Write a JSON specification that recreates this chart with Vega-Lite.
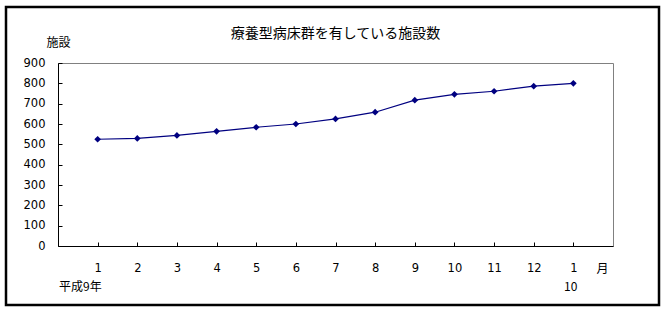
{
  "$schema": "https://vega.github.io/schema/vega-lite/v6.json",
  "width": 555,
  "height": 183,
  "autosize": {"type": "none"},
  "padding": {"left": 58, "top": 63, "right": 52, "bottom": 65},
  "background": "white",
  "title": {
    "text": "療養型病床群を有している施設数",
    "font": "Noto Sans CJK JP",
    "fontSize": 14,
    "fontWeight": "normal",
    "color": "black",
    "anchor": "middle",
    "frame": "group",
    "offset": -35
  },
  "datasets": {
    "main": [
      {"idx": 1, "value": 525},
      {"idx": 2, "value": 529},
      {"idx": 3, "value": 544},
      {"idx": 4, "value": 564},
      {"idx": 5, "value": 584},
      {"idx": 6, "value": 600},
      {"idx": 7, "value": 625},
      {"idx": 8, "value": 658},
      {"idx": 9, "value": 717},
      {"idx": 10, "value": 746},
      {"idx": 11, "value": 761},
      {"idx": 12, "value": 786},
      {"idx": 13, "value": 800}
    ],
    "notes": [
      {"idx": 1, "text": "平成9年"},
      {"idx": 13, "text": "10"}
    ],
    "frame": [{"f": 1}]
  },
  "encoding": {
    "x": {
      "field": "idx",
      "type": "quantitative",
      "scale": {"domain": [0, 14], "nice": false, "zero": false},
      "axis": {
        "values": [1, 2, 3, 4, 5, 6, 7, 8, 9, 10, 11, 12, 13],
        "labelExpr": "datum.value == 13 ? '1' : datum.label",
        "grid": false,
        "domainColor": "black",
        "tickColor": "black",
        "tickSize": -4,
        "labelPadding": 26,
        "labelBaseline": "middle",
        "labelFont": "DejaVu Sans",
        "labelFontSize": 11.5,
        "labelColor": "black",
        "labelFlush": false,
        "labelOverlap": false,
        "title": "月",
        "titleFont": "Noto Sans CJK JP",
        "titleFontSize": 12,
        "titleFontWeight": "normal",
        "titleColor": "black",
        "titleX": 544,
        "titleY": 22,
        "titleAlign": "center",
        "titleBaseline": "middle"
      }
    }
  },
  "layer": [
    {
      "data": {"name": "frame"},
      "mark": {
        "type": "rect",
        "fill": "transparent",
        "stroke": "black",
        "strokeWidth": 2.5,
        "clip": false
      },
      "encoding": {
        "x": {"value": -52},
        "y": {"value": -56},
        "x2": {"value": 601},
        "y2": {"value": 242}
      }
    },
    {
      "data": {"name": "main"},
      "mark": {"type": "line", "color": "#000080", "strokeWidth": 1.2},
      "encoding": {
        "y": {
          "field": "value",
          "type": "quantitative",
          "scale": {"domain": [0, 900], "nice": false},
          "axis": {
            "values": [0, 100, 200, 300, 400, 500, 600, 700, 800, 900],
            "grid": false,
            "domainColor": "black",
            "tickColor": "black",
            "tickSize": -4,
            "labelPadding": 17,
            "labelOverlap": false,
            "labelFont": "DejaVu Sans",
            "labelFontSize": 11.5,
            "labelColor": "black",
            "labelFlush": false,
            "title": "施設",
            "titleFont": "Noto Sans CJK JP",
            "titleFontSize": 12,
            "titleFontWeight": "normal",
            "titleColor": "black",
            "titleAngle": 0,
            "titleX": 0,
            "titleY": -21,
            "titleAlign": "center",
            "titleBaseline": "middle"
          }
        }
      }
    },
    {
      "data": {"name": "main"},
      "mark": {"type": "point", "shape": "diamond", "filled": true, "color": "#000080", "size": 45, "opacity": 1},
      "encoding": {
        "y": {
          "field": "value",
          "type": "quantitative",
          "scale": {"domain": [0, 900], "nice": false},
          "axis": {
            "values": [0, 100, 200, 300, 400, 500, 600, 700, 800, 900],
            "grid": false,
            "domainColor": "black",
            "tickColor": "black",
            "tickSize": -4,
            "labelPadding": 17,
            "labelOverlap": false,
            "labelFont": "DejaVu Sans",
            "labelFontSize": 11.5,
            "labelColor": "black",
            "labelFlush": false,
            "title": "施設",
            "titleFont": "Noto Sans CJK JP",
            "titleFontSize": 12,
            "titleFontWeight": "normal",
            "titleColor": "black",
            "titleAngle": 0,
            "titleX": 0,
            "titleY": -21,
            "titleAlign": "center",
            "titleBaseline": "middle"
          }
        }
      }
    },
    {
      "data": {"name": "notes"},
      "mark": {
        "type": "text",
        "align": "right",
        "baseline": "middle",
        "y": "height",
        "dy": 41,
        "dx": 4,
        "font": "Noto Sans CJK JP",
        "fontSize": 12,
        "color": "black"
      },
      "encoding": {
        "text": {"field": "text", "type": "nominal"}
      }
    }
  ],
  "config": {
    "view": {"stroke": "#808080", "strokeWidth": 1}
  }
}
